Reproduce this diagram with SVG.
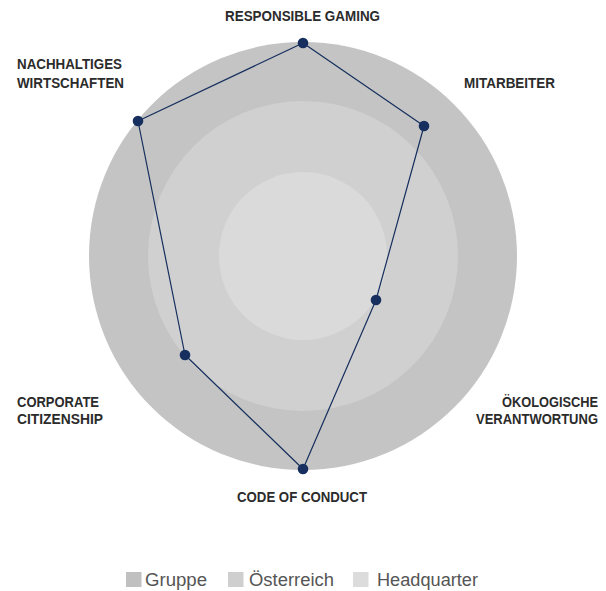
<svg xmlns="http://www.w3.org/2000/svg" width="606" height="591" viewBox="0 0 606 591">
<style>
.lbl{font-family:"Liberation Sans",Arial,sans-serif;font-weight:bold;font-size:14px;fill:#2b2b2b}
.leg{font-family:"Liberation Sans",Arial,sans-serif;font-size:17.5px;fill:#555555}
.dot{fill:#162f5e}
</style>
<rect width="606" height="591" fill="#ffffff"/>
<g id="rings">
<circle cx="303" cy="256" r="214" fill="#c3c4c3"/>
<circle cx="303" cy="256" r="155" fill="#d0d0d0"/>
<circle cx="303" cy="256" r="84" fill="#dadada"/>
</g>
<g id="connectors">
<polygon points="303,43 424,126 376,300 303,469 185,355 138,121" fill="none" stroke="#162f5e" stroke-width="1.2" stroke-linejoin="round"/>
</g>
<g id="node-responsible-gaming">
<circle class="dot" cx="303" cy="43" r="5.3"/>
<text class="lbl" x="225" y="21" textLength="155" lengthAdjust="spacingAndGlyphs">RESPONSIBLE GAMING</text>
</g>
<g id="node-mitarbeiter">
<circle class="dot" cx="424" cy="126" r="5.3"/>
<text class="lbl" x="464" y="88" textLength="91" lengthAdjust="spacingAndGlyphs">MITARBEITER</text>
</g>
<g id="node-oekologische-verantwortung">
<circle class="dot" cx="376" cy="300" r="5.3"/>
<text class="lbl" x="502" y="407" textLength="96" lengthAdjust="spacingAndGlyphs">ÖKOLOGISCHE</text>
<text class="lbl" x="476" y="424" textLength="122" lengthAdjust="spacingAndGlyphs">VERANTWORTUNG</text>
</g>
<g id="node-code-of-conduct">
<circle class="dot" cx="303" cy="469" r="5.3"/>
<text class="lbl" x="237" y="502" textLength="130" lengthAdjust="spacingAndGlyphs">CODE OF CONDUCT</text>
</g>
<g id="node-corporate-citizenship">
<circle class="dot" cx="185" cy="355" r="5.3"/>
<text class="lbl" x="17" y="407" textLength="82" lengthAdjust="spacingAndGlyphs">CORPORATE</text>
<text class="lbl" x="17" y="424" textLength="86" lengthAdjust="spacingAndGlyphs">CITIZENSHIP</text>
</g>
<g id="node-nachhaltiges-wirtschaften">
<circle class="dot" cx="138" cy="121" r="5.3"/>
<text class="lbl" x="17" y="69" textLength="105" lengthAdjust="spacingAndGlyphs">NACHHALTIGES</text>
<text class="lbl" x="17" y="88" textLength="107" lengthAdjust="spacingAndGlyphs">WIRTSCHAFTEN</text>
</g>
<g id="legend">
<rect x="126" y="572" width="15.5" height="15" fill="#bfc0bf"/>
<text class="leg" x="145" y="586" textLength="62" lengthAdjust="spacingAndGlyphs">Gruppe</text>
<rect x="228" y="572" width="15.5" height="15" fill="#cfcfcf"/>
<text class="leg" x="249" y="586" textLength="85" lengthAdjust="spacingAndGlyphs">Österreich</text>
<rect x="353" y="572" width="15.5" height="15" fill="#dcdcdc"/>
<text class="leg" x="377" y="586" textLength="101" lengthAdjust="spacingAndGlyphs">Headquarter</text>
</g>
</svg>
